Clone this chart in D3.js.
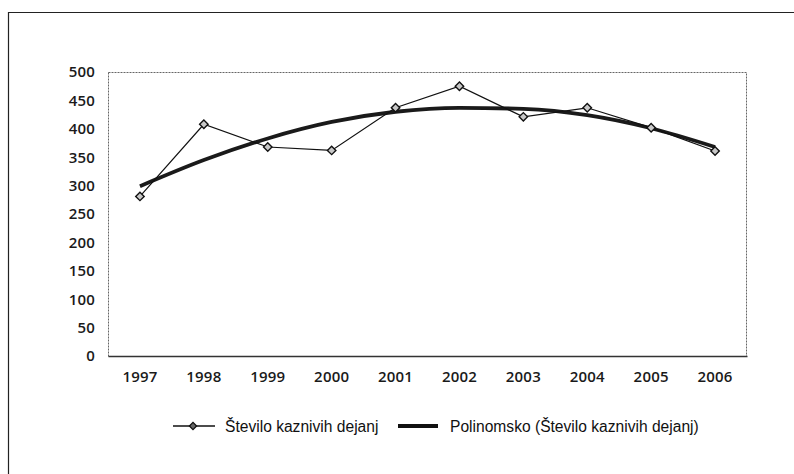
<!DOCTYPE html>
<html><head><meta charset="utf-8">
<script src="https://cdn.jsdelivr.net/npm/d3@7"></script>
<style>body{margin:0;background:#fff}svg{display:block}</style>
</head><body>
<svg id="c" width="794" height="474"></svg>
<script>
const years = ["1997","1998","1999","2000","2001","2002","2003","2004","2005","2006"];
const offences = [281, 408, 368, 362, 437, 475, 421, 437, 402, 361];
const trend = [299, 345, 383, 412, 430, 437, 435, 424, 401, 368];
const yTicks = [0, 50, 100, 150, 200, 250, 300, 350, 400, 450, 500];
const seriesName = "Število kaznivih dejanj";
const trendName = "Polinomsko (Število kaznivih dejanj)";

const svg = d3.select("#c");
const m = {left:108, top:72, right:747, bottom:356};

// outer frame (left and top edges)
svg.append("path").attr("d","M8.5,474 V12.5 H794")
  .attr("fill","none").attr("stroke","#222").attr("stroke-width",1.2);

const x = d3.scaleBand().domain(years).range([m.left, m.right]);
const y = d3.scaleLinear().domain([0,500]).range([m.bottom, m.top]);

// plot frame
svg.append("rect").attr("x",m.left+0.5).attr("y",m.top+0.5)
  .attr("width",m.right-m.left-1).attr("height",m.bottom-m.top)
  .attr("fill","none").attr("stroke","#666").attr("stroke-dasharray","2,1");

const tickFont = sel => sel.attr("font-family","Open Sans").attr("font-size","15px")
  .attr("font-weight","600").attr("letter-spacing","0.2px").attr("fill","#1a1a1a");

// y axis
const ya = svg.append("g").attr("transform",`translate(${m.left},0)`)
  .call(d3.axisLeft(y).tickValues(yTicks).tickSize(0).tickPadding(13));
ya.select(".domain").remove();
ya.selectAll("text").call(tickFont);

// x axis
const xa = svg.append("g").attr("transform",`translate(0,${m.bottom})`)
  .call(d3.axisBottom(x).tickSize(0).tickPadding(15));
xa.select(".domain").attr("stroke","#333").attr("stroke-width",1.3);
xa.selectAll("text").call(tickFont);

const cx = d => x(d) + x.bandwidth()/2;

// trend line
svg.append("path").datum(trend)
  .attr("fill","none").attr("stroke","#1a1a1a").attr("stroke-width",3.8)
  .attr("d", d3.line().x((d,i)=>cx(years[i])).y(d=>y(d)).curve(d3.curveMonotoneX));

// data line
svg.append("path").datum(offences)
  .attr("fill","none").attr("stroke","#111").attr("stroke-width",1.2)
  .attr("d", d3.line().x((d,i)=>cx(years[i])).y(d=>y(d)));

const diamond = d3.symbol().type(d3.symbolSquare).size(36);
svg.selectAll(".pt").data(offences).join("path")
  .attr("transform",(d,i)=>`translate(${cx(years[i])},${y(d)}) rotate(45)`)
  .attr("d",diamond).attr("fill","#c8c8c8").attr("stroke","#111").attr("stroke-width",1.4);

// legend
const ly = 426;
const legFont = sel => sel.attr("font-family","Liberation Sans").attr("font-size","15.6px").attr("fill","#111");
const lg = svg.append("g");
lg.append("line").attr("x1",173).attr("x2",215).attr("y1",ly).attr("y2",ly).attr("stroke","#111").attr("stroke-width",1.6);
lg.append("path").attr("transform",`translate(193,${ly}) rotate(45)`).attr("d",d3.symbol().type(d3.symbolSquare).size(26)).attr("fill","#666").attr("stroke","#111").attr("stroke-width",1.3);
lg.append("text").attr("x",225).attr("y",ly+5.5).text(seriesName).call(legFont);
lg.append("line").attr("x1",398).attr("x2",438).attr("y1",ly).attr("y2",ly).attr("stroke","#111").attr("stroke-width",3.8);
lg.append("text").attr("x",450).attr("y",ly+5.5).text(trendName).call(legFont);
</script>
</body></html>
